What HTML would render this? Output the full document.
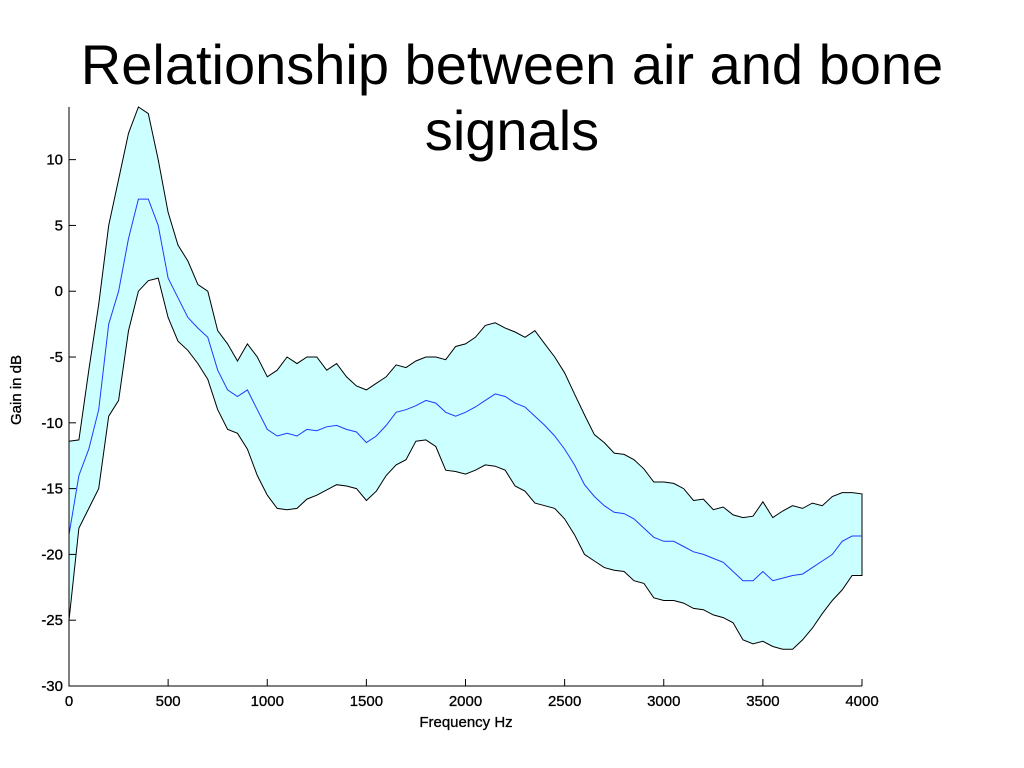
<!DOCTYPE html>
<html><head><meta charset="utf-8"><style>
body{margin:0;background:#fff;width:1024px;height:768px;overflow:hidden}
svg{display:block;font-family:"Liberation Sans",Arial,sans-serif}
</style></head><body>
<svg id="chart" width="1024" height="768">
<text x="512" y="84" font-size="56" text-anchor="middle">Relationship between air and bone</text>
<text x="512" y="150" font-size="56" text-anchor="middle">signals</text>
<g id="plot"></g>
<text x="466" y="727" font-size="15" text-anchor="middle" stroke="#000" stroke-width="0.3">Frequency Hz</text>
<text transform="translate(21,390) rotate(-90)" font-size="15" text-anchor="middle" stroke="#000" stroke-width="0.3">Gain in dB</text>
</svg>
<script>
const freqs=[0,50,100,150,200,250,300,350,400,450,500,550,600,650,700,750,800,850,900,950,1000,1050,1100,1150,1200,1250,1300,1350,1400,1450,1500,1550,1600,1650,1700,1750,1800,1850,1900,1950,2000,2050,2100,2150,2200,2250,2300,2350,2400,2450,2500,2550,2600,2650,2700,2750,2800,2850,2900,2950,3000,3050,3100,3150,3200,3250,3300,3350,3400,3450,3500,3550,3600,3650,3700,3750,3800,3850,3900,3950,4000];
const upper=[-11.4,-11.3,-6,-1,5,8.5,12,14,13.5,10,6,3.5,2.3,0.5,0,-3,-4,-5.3,-4,-5,-6.5,-6,-5,-5.5,-5,-5,-6,-5.5,-6.5,-7.2,-7.5,-7,-6.5,-5.6,-5.8,-5.3,-5,-5,-5.2,-4.2,-4,-3.5,-2.6,-2.4,-2.8,-3.1,-3.5,-3,-4,-5,-6.2,-7.8,-9.4,-10.9,-11.5,-12.3,-12.4,-12.8,-13.5,-14.5,-14.5,-14.6,-15,-15.9,-15.8,-16.6,-16.4,-17,-17.2,-17.1,-16,-17.2,-16.7,-16.3,-16.5,-16.1,-16.3,-15.6,-15.3,-15.3,-15.4];
const mean=[-18.5,-14,-12,-9,-2.5,0,4,7,7,5,1,-0.5,-2,-2.8,-3.5,-6,-7.5,-8,-7.5,-9,-10.5,-11,-10.8,-11,-10.5,-10.6,-10.3,-10.2,-10.5,-10.7,-11.5,-11,-10.2,-9.2,-9,-8.7,-8.3,-8.5,-9.2,-9.5,-9.2,-8.8,-8.3,-7.8,-8,-8.5,-8.8,-9.5,-10.2,-11,-12,-13.2,-14.7,-15.6,-16.3,-16.8,-16.9,-17.3,-18,-18.7,-19,-19,-19.4,-19.8,-20,-20.3,-20.6,-21.3,-22,-22,-21.3,-22,-21.8,-21.6,-21.5,-21,-20.5,-20,-19,-18.6,-18.6];
const lower=[-25,-18,-16.5,-15,-9.5,-8.3,-3,0,0.8,1,-2,-3.8,-4.5,-5.5,-6.7,-9,-10.5,-10.8,-12,-14,-15.5,-16.5,-16.6,-16.5,-15.8,-15.5,-15.1,-14.7,-14.8,-15,-15.9,-15.2,-14,-13.2,-12.8,-11.4,-11.3,-11.8,-13.6,-13.7,-13.9,-13.6,-13.2,-13.3,-13.6,-14.8,-15.2,-16.1,-16.3,-16.5,-17.3,-18.5,-20,-20.5,-21,-21.2,-21.3,-22,-22.2,-23.3,-23.5,-23.5,-23.7,-24.1,-24.2,-24.6,-24.8,-25.2,-26.5,-26.8,-26.6,-27,-27.2,-27.2,-26.5,-25.6,-24.5,-23.5,-22.7,-21.6,-21.6];
const xTicks=[0,500,1000,1500,2000,2500,3000,3500,4000];
const yTicks=[-30,-25,-20,-15,-10,-5,0,5,10];
const X0=69,X1=862,Y0=686,Y1=107,xMax=4000,yMin=-30,yMax=14;
const sx=f=>X0+(f/xMax)*(X1-X0);
const sy=v=>Y0-(v-yMin)/(yMax-yMin)*(Y0-Y1);
const NS="http://www.w3.org/2000/svg";
const g=document.getElementById('plot');
function mk(t,a){const e=document.createElementNS(NS,t);for(const k in a)e.setAttribute(k,a[k]);g.appendChild(e);return e;}
const up=freqs.map((f,i)=>sx(f).toFixed(1)+','+sy(upper[i]).toFixed(1));
const lo=freqs.map((f,i)=>sx(f).toFixed(1)+','+sy(lower[i]).toFixed(1));
const band=mk('polygon',{points:up.concat(lo.slice().reverse()).join(' '),fill:'#ccffff',stroke:'#000','stroke-width':'1'});


const ml=mk('polyline',{points:freqs.map((f,i)=>sx(f).toFixed(1)+','+sy(mean[i]).toFixed(1)).join(' '),fill:'none',stroke:'#1a3cff','stroke-width':'1'});


const ax=mk('path',{d:`M${X0},${Y1}V${Y0}H${X1}`,fill:'none',stroke:'#000','stroke-width':'1'});


xTicks.forEach(t=>{
 const l=mk('line',{x1:sx(t),x2:sx(t),y1:Y0,y2:Y0-7,stroke:'#000'});
 
 
 const tx=mk('text',{x:sx(t),y:Y0+20,'font-size':'15','text-anchor':'middle',stroke:'#000','stroke-width':'0.3'});
 tx.textContent=t;
 
 
});
yTicks.forEach(t=>{
 const l=mk('line',{x1:X0,x2:X0+7,y1:sy(t),y2:sy(t),stroke:'#000'});
 
 
 const tx=mk('text',{x:X0-6,y:sy(t)+5,'font-size':'15','text-anchor':'end',stroke:'#000','stroke-width':'0.3'});
 tx.textContent=t;
 
 
});
</script>
</body></html>
